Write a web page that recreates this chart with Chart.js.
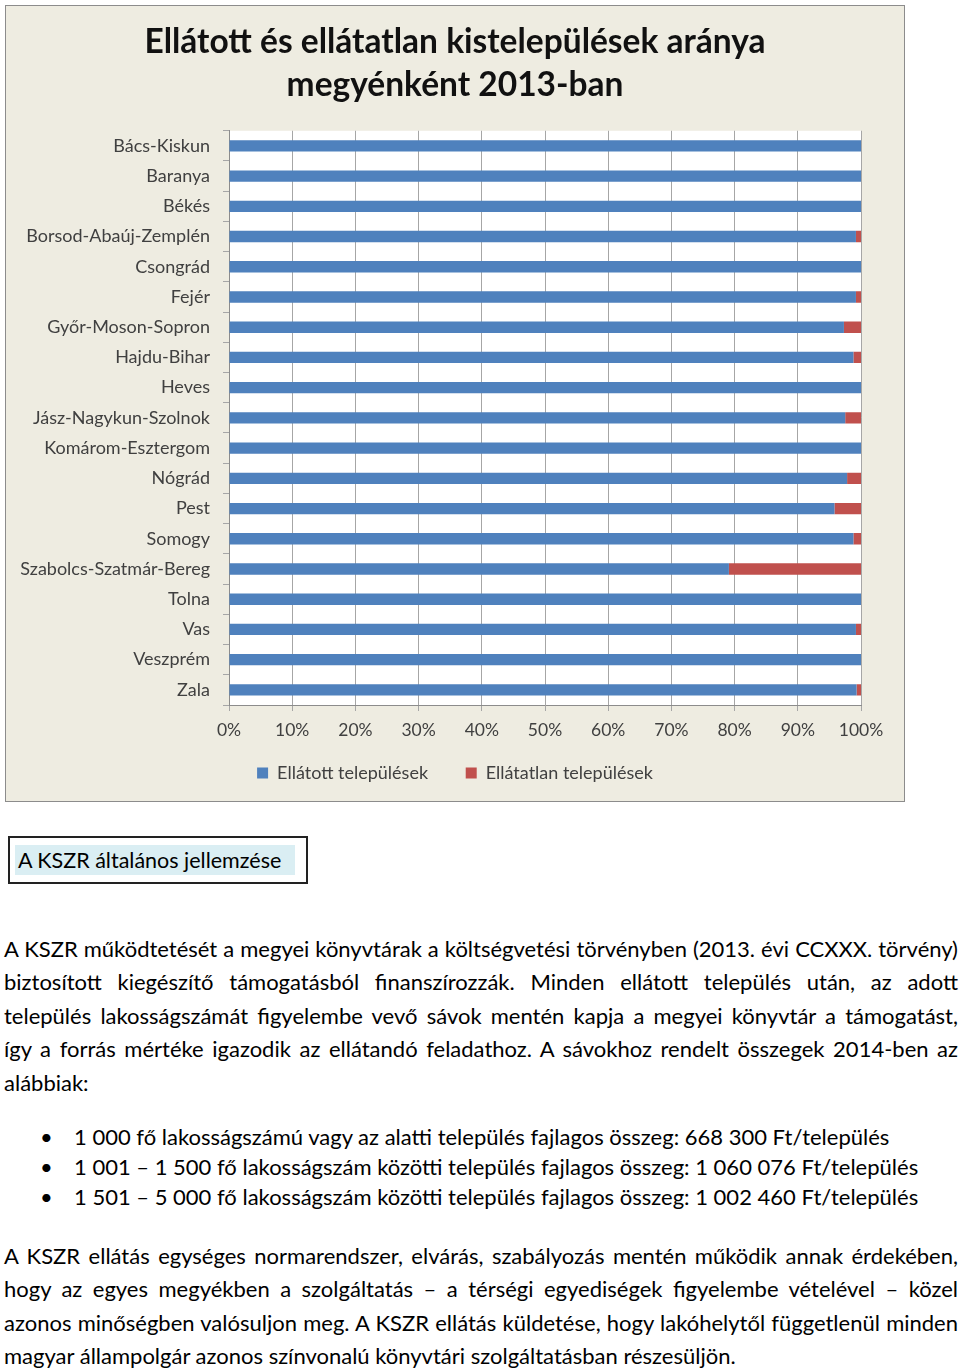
<!DOCTYPE html>
<html lang="hu">
<head>
<meta charset="utf-8">
<title>Ellátott és ellátatlan kistelepülések aránya</title>
<script src="https://cdn.jsdelivr.net/npm/chart.js@4.4.1/dist/chart.umd.min.js"></script>
<style>
  body { margin: 0; background: #fff; width: 960px; height: 1371px; position: relative; font-family: Lato, "Open Sans", sans-serif; color: #000; }
  #chartBox { position: absolute; left: 5px; top: 5px; width: 898px; height: 795px; border: 1px solid #8c8c8c; background: #eeece1; }
  #heading { position: absolute; left: 8px; top: 836px; width: 296px; height: 44px; border: 2px solid #222; }
  #heading span { position: absolute; left: 5px; top: 7px; height: 30px; line-height: 30px; padding: 0 14px 0 3px; background: #daeef3; font-size: 21.5px; }
  .para { position: absolute; left: 4px; width: 954px; font-size: 22px; }
  .para div { height: 33.4px; line-height: 33.4px; text-align: justify; text-align-last: justify; white-space: nowrap; }
  .para div.last { text-align-last: left; }
  ul { position: absolute; left: 0; top: 1122px; margin: 0; padding: 0; list-style: none; font-size: 22px; }
  ul li { height: 30px; line-height: 30px; position: relative; padding-left: 74px; white-space: nowrap; }
  ul li:before { content: "\2022"; position: absolute; left: 40px; font-size: 22px; }
</style>
</head>
<body>
<div id="chartBox"><canvas id="aranyChart" width="898" height="795"></canvas></div>

<div id="heading"><span>A KSZR általános jellemzése</span></div>

<div class="para" style="top:932px">
  <div>A KSZR működtetését a megyei könyvtárak a költségvetési törvényben (2013. évi CCXXX. törvény)</div>
  <div>biztosított kiegészítő támogatásból finanszírozzák. Minden ellátott település után, az adott</div>
  <div>település lakosságszámát figyelembe vevő sávok mentén kapja a megyei könyvtár a támogatást,</div>
  <div>így a forrás mértéke igazodik az ellátandó feladathoz. A sávokhoz rendelt összegek 2014-ben az</div>
  <div class="last">alábbiak:</div>
</div>

<ul>
  <li>1 000 fő lakosságszámú vagy az alatti település fajlagos összeg: 668 300 Ft/település</li>
  <li>1 001 – 1 500 fő lakosságszám közötti település fajlagos összeg: 1 060 076 Ft/település</li>
  <li>1 501 – 5 000 fő lakosságszám közötti település fajlagos összeg: 1 002 460 Ft/település</li>
</ul>

<div class="para" style="top:1239px">
  <div>A KSZR ellátás egységes normarendszer, elvárás, szabályozás mentén működik annak érdekében,</div>
  <div>hogy az egyes megyékben a szolgáltatás – a térségi egyediségek figyelembe vételével – közel</div>
  <div>azonos minőségben valósuljon meg. A KSZR ellátás küldetése, hogy lakóhelytől függetlenül minden</div>
  <div class="last">magyar állampolgár azonos színvonalú könyvtári szolgáltatásban részesüljön.</div>
</div>

<script>
// Megyék és arányok (%)
const megyek = ['Bács-Kiskun', 'Baranya', 'Békés', 'Borsod-Abaúj-Zemplén', 'Csongrád', 'Fejér',
    'Győr-Moson-Sopron', 'Hajdu-Bihar', 'Heves', 'Jász-Nagykun-Szolnok', 'Komárom-Esztergom',
    'Nógrád', 'Pest', 'Somogy', 'Szabolcs-Szatmár-Bereg', 'Tolna', 'Vas', 'Veszprém', 'Zala'];
const ellatott = [100, 100, 100, 99.2, 100, 99.2, 97.3, 98.8, 100, 97.5, 100, 97.8, 95.8, 98.8, 79.1, 100, 99.2, 100, 99.3];
const ellatatlan = [0, 0, 0, 0.8, 0, 0.8, 2.7, 1.2, 0, 2.5, 0, 2.2, 4.2, 1.2, 20.9, 0, 0.8, 0, 0.7];
const xTicks = [0, 10, 20, 30, 40, 50, 60, 70, 80, 90, 100];

const chartFont = 'Lato, "Open Sans", sans-serif';
const gridColor = '#a6a6a6';

// fehér rajzterület a bézs háttér előtt
const plotBackground = {
    id: 'plotBackground',
    beforeDraw(chart) {
        const { ctx, chartArea } = chart;
        ctx.save();
        ctx.fillStyle = '#ffffff';
        ctx.fillRect(chartArea.left, chartArea.top, chartArea.right - chartArea.left, chartArea.bottom - chartArea.top);
        ctx.restore();
    }
};

function createAranyChart() {
    const ctx = document.getElementById('aranyChart');

    new Chart(ctx.getContext('2d'), {
        type: 'bar',
        data: {
            labels: megyek,
            datasets: [{
                label: 'Ellátott települések',
                data: ellatott,
                backgroundColor: '#4f81bd',
                barPercentage: 0.375,
                categoryPercentage: 1
            }, {
                label: 'Ellátatlan települések',
                data: ellatatlan,
                backgroundColor: '#c0504d',
                barPercentage: 0.375,
                categoryPercentage: 1
            }]
        },
        options: {
            indexAxis: 'y',
            responsive: false,
            animation: false,
            devicePixelRatio: 1,
            layout: { padding: { left: 0, right: 0, top: 0, bottom: 9 } },
            plugins: {
                title: {
                    display: true,
                    text: ['Ellátott és ellátatlan kistelepülések aránya', 'megyénként 2013-ban'],
                    color: '#111',
                    font: { family: chartFont, size: 33.5, weight: 'bold', lineHeight: 1.28 },
                    padding: { top: 15, bottom: 24 }
                },
                legend: {
                    position: 'bottom',
                    labels: {
                        color: '#404040',
                        font: { family: chartFont, size: 18 },
                        boxWidth: 11,
                        boxHeight: 11,
                        padding: 10,
                        generateLabels(chart) {
                            const items = Chart.defaults.plugins.legend.labels.generateLabels(chart);
                            items[0].text += '      ';
                            return items;
                        }
                    }
                },
                tooltip: { enabled: false }
            },
            scales: {
                x: {
                    stacked: true,
                    min: 0,
                    max: 100,
                    afterBuildTicks(scale) {
                        scale.ticks = xTicks.map(v => ({ value: v }));
                    },
                    afterFit(scale) { scale.height = 49; },
                    ticks: {
                        color: '#404040',
                        font: { family: chartFont, size: 17.5 },
                        padding: 9,
                        callback: v => v + '%'
                    },
                    grid: { color: gridColor, tickLength: 6 },
                    border: { color: '#8c8c8c' }
                },
                y: {
                    stacked: true,
                    afterFit(scale) { scale.width = 223; },
                    ticks: {
                        color: '#404040',
                        font: { family: chartFont, size: 18 },
                        padding: 13,
                        autoSkip: false
                    },
                    grid: { drawOnChartArea: false, color: gridColor, tickLength: 6, offset: true },
                    border: { color: '#8c8c8c' }
                },
                // üres jobb oldali tengely: helyet hagy, a cím és a jelmagyarázat így középen marad
                jobb: {
                    type: 'linear',
                    position: 'right',
                    afterFit(scale) { scale.width = 43; },
                    ticks: { display: false },
                    grid: { display: false },
                    border: { display: false }
                }
            }
        },
        plugins: [plotBackground]
    });
}

createAranyChart();
</script>
</body>
</html>
